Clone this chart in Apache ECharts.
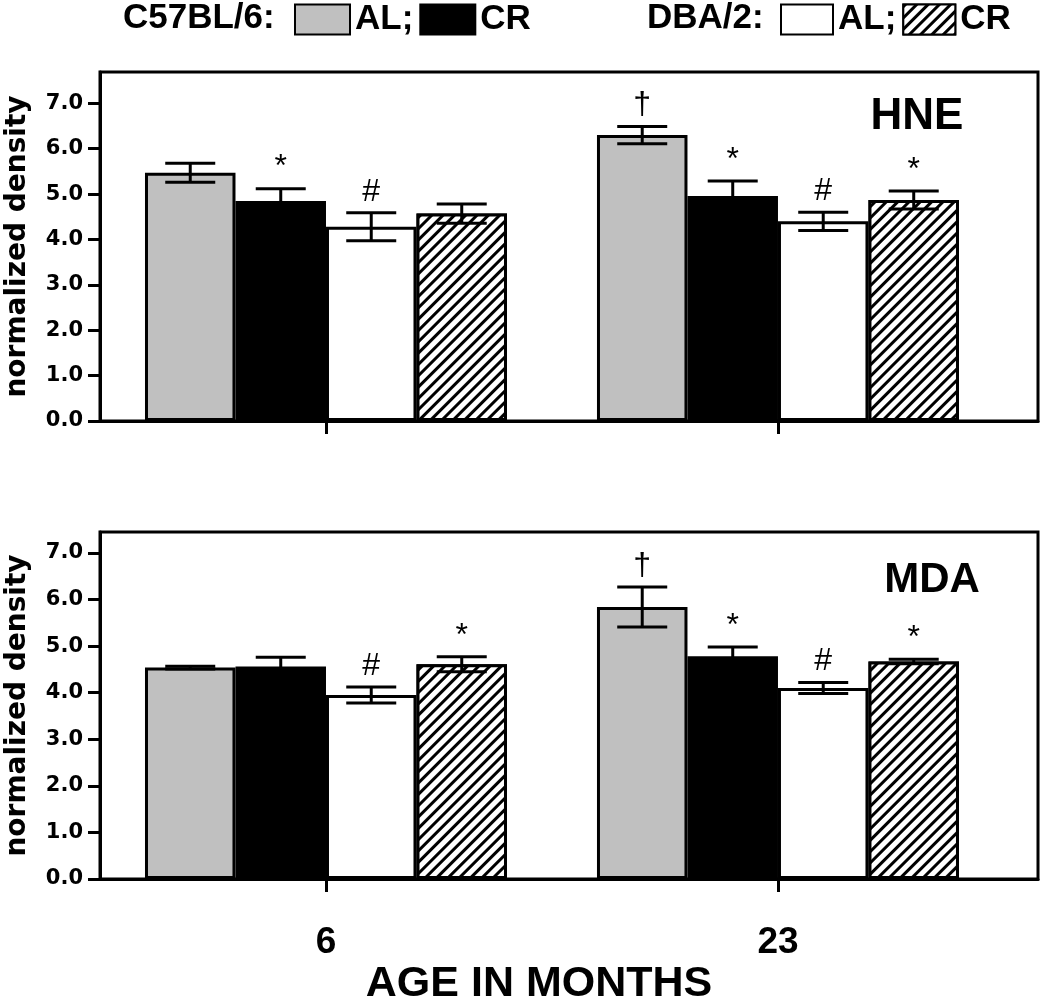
<!DOCTYPE html>
<html>
<head>
<meta charset="utf-8">
<script src="https://cdn.jsdelivr.net/npm/echarts@6/dist/echarts.min.js"></script>
<style>
  html, body { margin: 0; padding: 0; background: #fff; }
  #chart { width: 1050px; height: 1003px; }
</style>
</head>
<body>
<div id="chart"></div>
<script>
// ages on the x axis (months)
const ages = [6, 23];
const groups = ['C57BL/6 AL', 'C57BL/6 CR', 'DBA/2 AL', 'DBA/2 CR'];
const yTicks = [0, 1, 2, 3, 4, 5, 6, 7];

// HNE panel: mean per group at [6, 23] months, SEM, significance marks
const hneMean = [[5.47, 6.30], [4.85, 4.96], [4.28, 4.40], [4.57, 4.87]];
const hneErr = [[0.21, 0.19], [0.27, 0.33], [0.31, 0.20], [0.21, 0.20]];
const hneMarks = [['', '†'], ['*', '*'], ['#', '#'], ['', '*']];

// MDA panel
const mdaMean = [[4.54, 5.84], [4.56, 4.78], [3.95, 4.10], [4.61, 4.67]];
const mdaErr = [[0.03, 0.43], [0.20, 0.20], [0.17, 0.12], [0.16, 0.05]];
const mdaMarks = [['', '†'], ['', '*'], ['#', '#'], ['*', '*']];

const BAR_W = 90.5;
const CAP = 25;
const sans = '"Liberation Sans", Arial, sans-serif';

const fills = ['#c0c0c0', '#000000', '#ffffff', '#ffffff'];
const hatch = {
    symbol: 'rect',
    symbolSize: 1,
    rotation: -Math.PI / 4,
    color: '#000',
    backgroundColor: '#fff',
    dashArrayX: [1, 0],
    dashArrayY: [2.5, 5]
};

let mycharts = echarts.init(document.getElementById('chart'), null, { renderer: 'canvas' });

function barSeries(panel, means) {
    return groups.map((g, k) => ({
        type: 'bar',
        name: g,
        xAxisIndex: panel,
        yAxisIndex: panel,
        barWidth: BAR_W,
        barGap: '0%',
        data: ages.map((a, i) => [a, means[k][i]]),
        itemStyle: {
            color: fills[k],
            borderColor: '#000',
            borderWidth: 3,
            decal: k === 3 ? hatch : null
        },
        emphasis: { disabled: true },
        z: 2
    }))
}

function errSeries(panel, means, errs, marks) {
    const items = [];
    groups.forEach((g, k) => {
        ages.forEach((a, i) => {
            items.push({ value: [a, means[k][i], errs[k][i]], k: k, mark: marks[k][i] });
        });
    });
    return {
        type: 'custom',
        xAxisIndex: panel,
        yAxisIndex: panel,
        data: items.map(d => d.value),
        encode: { x: 0, y: 1 },
        z: 5,
        silent: true,
        renderItem: (params, api) => {
            const it = items[params.dataIndex];
            const x = api.value(0), m = api.value(1), e = api.value(2);
            const px = api.coord([x, m])[0] + (it.k - 1.5) * BAR_W;
            const yt = api.coord([x, m + e])[1];
            const yb = api.coord([x, m - e])[1];
            const ls = { stroke: '#000', lineWidth: 3 };
            const children = [
                { type: 'line', shape: { x1: px, y1: yt, x2: px, y2: yb }, style: ls },
                { type: 'line', shape: { x1: px - CAP, y1: yt, x2: px + CAP, y2: yt }, style: ls },
                { type: 'line', shape: { x1: px - CAP, y1: yb, x2: px + CAP, y2: yb }, style: ls }
            ];
            if (it.mark) {
                children.push({
                    type: 'text',
                    style: {
                        text: it.mark, x: px, y: yt - 5,
                        align: 'center', verticalAlign: 'bottom',
                        font: '32px ' + sans, fill: '#000'
                    }
                });
            }
            return { type: 'group', children: children };
        }
    }
}

function xAx(panel, showLabel) {
    return {
        type: 'value',
        gridIndex: panel,
        min: -2.5,
        max: 32.78,
        axisLine: { onZero: false, lineStyle: { color: '#000', width: 3 } },
        splitLine: { show: false },
        axisTick: { customValues: ages, length: 13, lineStyle: { color: '#000', width: 3 } },
        axisLabel: {
            show: showLabel,
            customValues: ages,
            margin: 45,
            fontFamily: sans,
            fontWeight: 'bold',
            fontSize: 37,
            color: '#000'
        },
        name: showLabel ? 'AGE IN MONTHS' : '',
        nameLocation: 'middle',
        nameGap: 84,
        nameTextStyle: {
            fontFamily: sans, fontWeight: 'bold', fontSize: 43, color: '#000',
            padding: [0, 60, 0, 0]
        }
    }
}

function yAx(panel, max) {
    return {
        type: 'value',
        gridIndex: panel,
        min: 0,
        max: max,
        axisLine: { show: true, onZero: false, lineStyle: { color: '#000', width: 3 } },
        splitLine: { show: false },
        axisTick: { show: true, customValues: yTicks, length: 12, lineStyle: { color: '#000', width: 3 } },
        axisLabel: {
            customValues: yTicks,
            formatter: v => v.toFixed(1),
            margin: 17,
            fontFamily: '"DejaVu Sans", sans-serif',
            fontWeight: 'bold',
            fontSize: 21,
            color: '#000'
        },
        name: 'normalized density',
        nameLocation: 'middle',
        nameGap: 68,
        nameTextStyle: { fontFamily: '"DejaVu Sans", sans-serif', fontWeight: 'bold', fontSize: 28, color: '#000' }
    }
}

const legendText = {
    fontFamily: sans,
    fontWeight: 'bold',
    fontSize: 35,
    color: '#000'
};

mycharts.setOption({
    backgroundColor: '#fff',
    animation: false,
    legend: [
        {
            left: 294, top: 2, padding: 0,
            data: groups.slice(0, 2),
            icon: 'rect', itemWidth: 55, itemHeight: 30, itemGap: 6,
            formatter: n => n.endsWith('AL') ? 'AL;' : 'CR',
            textStyle: legendText,
            selectedMode: false
        },
        {
            left: 780, top: 2, padding: 0,
            data: groups.slice(2),
            icon: 'rect', itemWidth: 52, itemHeight: 30, itemGap: 6,
            formatter: n => n.endsWith('AL') ? 'AL;' : 'CR',
            textStyle: legendText,
            selectedMode: false
        }
    ],
    graphic: [
        { type: 'text', left: 123, top: 1, style: { text: 'C57BL/6:', font: 'bold 35px ' + sans, fill: '#000' } },
        { type: 'text', left: 647, top: 1, style: { text: 'DBA/2:', font: 'bold 35px ' + sans, fill: '#000' } },
        { type: 'text', x: 917, y: 117, style: { text: 'HNE', font: 'bold 44px ' + sans, fill: '#000', align: 'center', verticalAlign: 'middle' } },
        { type: 'text', x: 932, y: 580, style: { text: 'MDA', font: 'bold 42px ' + sans, fill: '#000', align: 'center', verticalAlign: 'middle' } }
    ],
    grid: [
        { left: 100, top: 72, width: 938, height: 349, show: true, borderColor: '#000', borderWidth: 3, backgroundColor: 'transparent', outerBoundsMode: 'none', containLabel: false },
        { left: 100, top: 532, width: 938, height: 347, show: true, borderColor: '#000', borderWidth: 3, backgroundColor: 'transparent', outerBoundsMode: 'none', containLabel: false }
    ],
    xAxis: [xAx(0, false), xAx(1, true)],
    yAxis: [yAx(0, 7.69), yAx(1, 7.45)],
    series: [
        ...barSeries(0, hneMean),
        errSeries(0, hneMean, hneErr, hneMarks),
        ...barSeries(1, mdaMean),
        errSeries(1, mdaMean, mdaErr, mdaMarks)
    ]
})
</script>
</body>
</html>
